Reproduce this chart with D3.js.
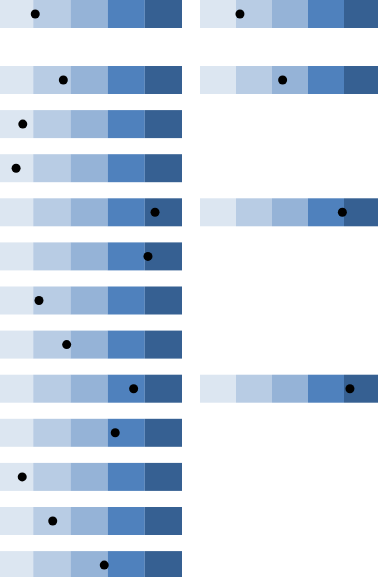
<!DOCTYPE html>
<html lang="en">
<head>
    <meta charset="UTF-8">
    <script src="https://d3js.org/d3.v7.min.js"></script>
    <style>
        body{ margin:0; background:#fff; overflow:hidden; }
    </style>
    <title>Bands</title>
</head>
<body>
    <div class="canvas"></div>
<script>
    const width = 378;
    const height = 577;

    // rows and bands
    const rows = ['r0','r1','r2','r3','r4','r5','r6','r7','r8','r9','r10','r11','r12'];
    const bands = [0, 20, 40, 60, 80, 100];
    const bandColors = ['#dce6f1','#b8cce4','#95b3d7','#4f81bd','#366092'];
    // dot values (percentile) per row, null = no bar
    const leftValues  = [21.1, 36.2, 14.4, 10.8, 85.5, 81.7, 23.1, 38.0, 74.0, 64.1, 14.1, 30.5, 58.2];
    const rightValues = [22.2, 45.9, null, null, 79.1, null, null, null, 83.3, null, null, null, null];

    const svg = d3.select('.canvas')
                    .append('svg')
                    .attr('width',width)
                    .attr('height',height);

    const rowH = 28;
    const step = 44.1;
    // first row sits on its own at the top, the rest in a regular band
    const y = d3.scaleBand()
                .domain(rows.slice(1))
                .range([66, 66 + (12 - (step - rowH)/step) * step])
                .paddingInner((step - rowH)/step)
                .paddingOuter(0);
    const rowY = r => r === 'r0' ? 0 : y(r);

    const xLeft = d3.scaleLinear().domain([0,100]).range([-4,182]);
    const xRight = d3.scaleLinear().domain([0,100]).range([200,380]);

    function drawColumn(values, x){
        const data = rows.map((r,i)=>({row:r, v:values[i]})).filter(d=>d.v !== null);
        const g = svg.append('g');
        const rowG = g.selectAll('g.row')
                        .data(data)
                        .enter()
                        .append('g')
                        .attr('class','row')
                        .attr('transform',d=>`translate(0,${rowY(d.row)})`);
        rowG.selectAll('rect')
            .data(bandColors.map((c,i)=>({c, a:bands[i], b:bands[i+1]})))
            .enter()
            .append('rect')
            .attr('x',d=>x(d.a))
            .attr('width',d=>x(d.b)-x(d.a))
            .attr('y',0)
            .attr('height',rowH)
            .attr('fill',d=>d.c);
        rowG.append('circle')
            .attr('cx',d=>x(d.v))
            .attr('cy',rowH/2)
            .attr('r',4.5)
            .attr('fill','#000');
    }

    drawColumn(leftValues, xLeft);
    drawColumn(rightValues, xRight);
</script>
</body>
</html>
